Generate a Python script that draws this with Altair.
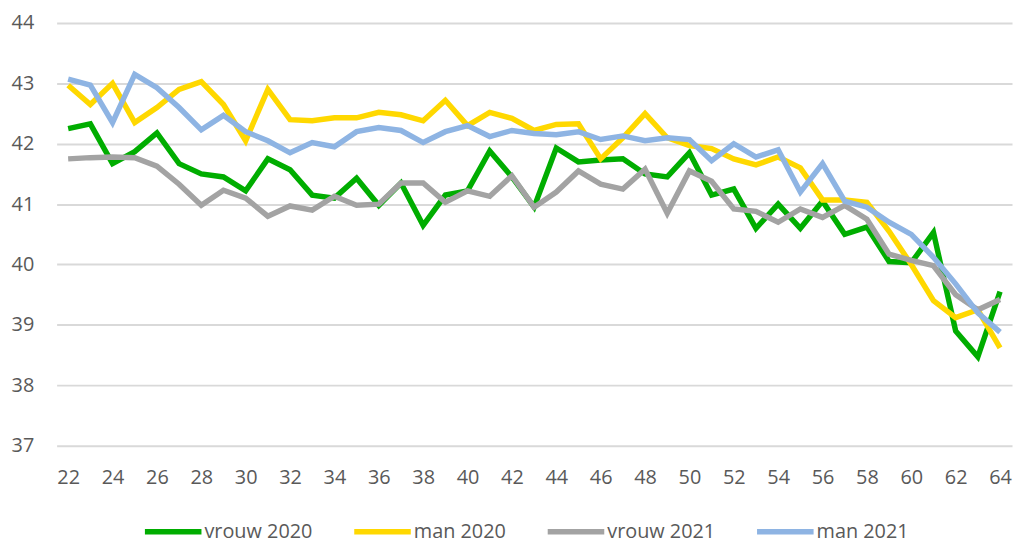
import altair as alt
import pandas as pd

ages = list(range(22, 65))

vrouw_2020 = [42.25, 42.33, 41.67, 41.87, 42.18, 41.67, 41.50, 41.45, 41.22, 41.75,
              41.57, 41.15, 41.10, 41.43, 40.98, 41.35, 40.65, 41.15, 41.22, 41.88,
              41.45, 40.95, 41.93, 41.70, 41.73, 41.75, 41.50, 41.45, 41.85, 41.15,
              41.25, 40.60, 41.00, 40.60, 41.05, 40.50, 40.62, 40.05, 40.03, 40.53,
              38.90, 38.47, 39.55]
man_2020 = [42.97, 42.65, 43.00, 42.35, 42.60, 42.90, 43.03, 42.65, 42.05, 42.90,
            42.40, 42.38, 42.43, 42.43, 42.52, 42.48, 42.38, 42.72, 42.30, 42.52,
            42.42, 42.22, 42.32, 42.33, 41.75, 42.10, 42.50, 42.10, 41.97, 41.92,
            41.75, 41.65, 41.78, 41.60, 41.07, 41.07, 41.03, 40.55, 40.00, 39.40,
            39.12, 39.25, 38.62]
vrouw_2021 = [41.75, 41.77, 41.78, 41.77, 41.63, 41.33, 40.98, 41.23, 41.10, 40.80,
              40.97, 40.90, 41.13, 40.98, 41.00, 41.35, 41.35, 41.03, 41.22, 41.13,
              41.47, 40.95, 41.20, 41.55, 41.33, 41.25, 41.58, 40.85, 41.55, 41.38,
              40.92, 40.88, 40.70, 40.92, 40.78, 40.98, 40.75, 40.17, 40.07, 39.98,
              39.50, 39.25, 39.42]
man_2021 = [43.07, 42.97, 42.35, 43.15, 42.93, 42.60, 42.23, 42.47, 42.20, 42.05,
            41.85, 42.02, 41.95, 42.20, 42.27, 42.22, 42.02, 42.20, 42.30, 42.12,
            42.22, 42.17, 42.15, 42.20, 42.07, 42.13, 42.05, 42.10, 42.07, 41.72,
            42.00, 41.78, 41.90, 41.20, 41.67, 41.05, 40.95, 40.70, 40.50, 40.12,
            39.68, 39.20, 38.88]

series_names = ["vrouw 2020", "man 2020", "vrouw 2021", "man 2021"]
series_colors = ["#00AD00", "#FFD800", "#A3A3A3", "#8EB4E3"]
x_ticks = list(range(22, 65, 2))
y_ticks = list(range(37, 45))

rows = []
for si, (name, vals) in enumerate(zip(series_names, [vrouw_2020, man_2020, vrouw_2021, man_2021])):
    for a, v in zip(ages, vals):
        rows.append({"leeftijd": a, "waarde": v, "reeks": name, "o": si})
df = pd.DataFrame(rows)

FONT = "Open Sans"
TXT = "#595959"

chart = alt.Chart(df).mark_line(strokeWidth=5.5, strokeJoin="miter", strokeCap="butt").encode(
    x=alt.X("leeftijd:Q",
            scale=alt.Scale(domain=[21.48, 64.54], nice=False, zero=False),
            axis=alt.Axis(values=x_ticks, title=None, grid=False, domain=False, ticks=False,
                          labelFontSize=20, labelColor=TXT, labelFont=FONT, labelPadding=22,
                          labelFlush=False)),
    y=alt.Y("waarde:Q",
            scale=alt.Scale(domain=[37, 44], nice=False, zero=False),
            axis=alt.Axis(values=y_ticks, title=None, grid=True, gridColor="#D9D9D9",
                          gridWidth=2, domain=False, ticks=False, labelFontSize=20,
                          labelColor=TXT, labelFont=FONT, labelPadding=23)),
    color=alt.Color("reeks:N",
                    scale=alt.Scale(domain=series_names, range=series_colors),
                    sort=series_names,
                    legend=alt.Legend(title=None, orient="none", direction="horizontal",
                                      legendX=86, legendY=481, symbolType="stroke",
                                      symbolSize=3249, symbolStrokeWidth=5.5,
                                      labelFontSize=20, labelColor=TXT, labelFont=FONT,
                                      columnPadding=31, labelOffset=0, labelLimit=200)),
    order=alt.Order("o:Q"),
    detail="reeks:N",
).properties(
    width=963, height=426,
    autosize=alt.AutoSizeParams(type="none"),
    padding={"left": 49, "top": 13, "right": 2, "bottom": 96},
).configure_view(stroke=None)

chart.save("out.html", embed_options={"renderer": "svg", "actions": False})
